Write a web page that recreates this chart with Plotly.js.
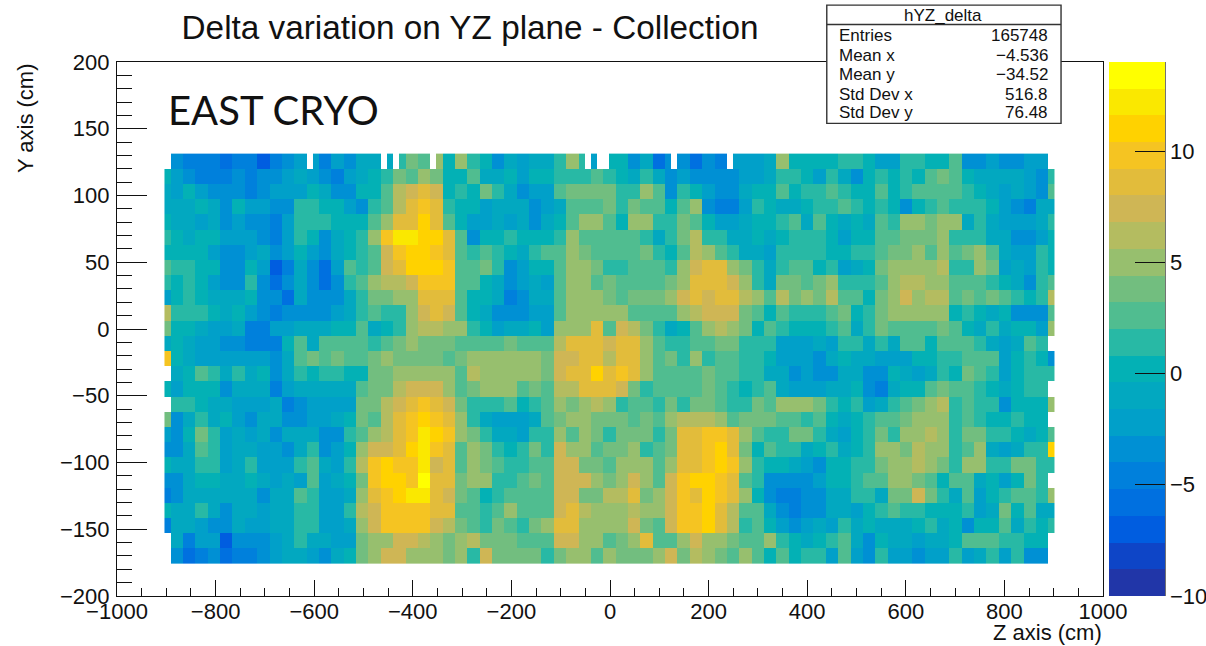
<!DOCTYPE html>
<html><head><meta charset="utf-8">
<script src="https://cdn.plot.ly/plotly-3.0.1.min.js"></script>
<style>html,body{margin:0;padding:0;background:#fff}#c{width:1206px;height:646px}</style>
</head><body><div id="c"></div>
<script>
const binStart=-903.7, binWidth=12.54, rowStart=-175.9, rowHeight=11.38;
// rows run top to bottom; each holds 71 double-width cells
const row01=[-3.5,-4.5,-4.5,-5,-6,-4.5,-5,-7,-4.5,-3.5,-2,-2,-4.5,-2,-3.5,-1,-1,-1,1.5,4,2.5,5, 0,5,1.5,0,-3,-1,-2,-1,-1,1.5,5,1.5,-2,0,0,-3,-1,-6,-3.5,-3.5,-6,-3.5,-4.5,-2,-2,-2,-1, 5,0,0,0,0,1.5,1.5,0,-2,-2,1.5,1.5,0,0,2.5,-3.5,-3.5,-2,-3.5,-3.5,-2,-2];
const row02=[-2.5,-3.5,-4.5,-4.5,-5,-3,-5,-3.5,-3.5,-2,-1,-2,-3,-4.5,-2,-1,0,1.5,4,2.5,5,4, 0,0.5,2,-0.5,-1.5,0,-2,0,0.5,1.5,1.5,1.5,2.5,1,0,-1.5,1.5,-1,-3,-2.5,-4,-3.5,-4,-3.5,-2,-2,-1, 1.5,1,0.5,-2,1.5,-1,-4,0,1.5,0,1.5,0.5,2,3.5,2,0,-1,-1,-0.5,-1,-2,-4];
const row03=[-2,0,-2,-3,-3.5,-3.5,-5,-3,-2,-2.5,-2,0,-1,-3.5,-3.5,0.5,0,3,6,7,9,7, 0,1.5,0,4,1.5,-0.5,-3,-2,-2,2,4,4,4,4,1.5,1.5,5,3,-3,1,0.5,-2,-3,-3,-1,0.5,0, 2.5,0.5,1.5,1.5,2.5,1.5,0,0,2.5,0,1.5,2.5,2.5,2.5,2.5,1.5,0.5,-0.5,-2,-1,-2,-4];
const row04=[-1,-1,0,-1,-3,0,-2,-2,-4,-3,1.5,1.5,0.5,0,-2,-3.5,1.5,3,6.5,9,10,8.5, 1,0,0,-2,-0.5,-1,-0.5,-3,-2,-0.5,2.5,3,2.5,3.5,1.5,4,2.5,2.5,0,3,4.5,-4,-4.5,-4.5,-2,1.5,0, -1,-1,0,1.5,1.5,2,1.5,0.5,1.5,0,-3,0.5,1.5,2.5,1.5,1.5,1.5,0,-2,-4,-4.5,-1.5];
const row05=[-1.5,-1,-2.5,-1,-3,-2,-3.5,-3,-4.5,-2,1,1,1,0,0.5,0.5,3,5.5,9,8.5,11,9, 2,0,-2,-2,-1.5,-2.5,-1,-3,-1.5,0.5,2.5,5.5,4.5,3,0.5,5,5,1.5,1.5,4,3,0,-2,-2.5,-0.5,0,0, 1.5,3,-0.5,2.5,0,-1,0,-1.5,3,1.5,4.5,4.5,4,5,5,-1,1.5,-1,-2,-2,-2,-1.5];
const row06=[0,-1.5,0,0,-2.5,-2,-2,-3,-4.5,-2,1,0,-3,-0.5,0,1,5,9.5,12,12,11.5,10.5, 9,2,-3,0,0,1.5,0,0,0,1.5,4.5,2.5,2.5,2.5,2.5,2.5,1.5,-0.5,1.5,4,6,1,1.5,-1,-1,0,-1, 0.5,1.5,1.5,1.5,0,-2,0,0,3,2.5,4,4,4,5,1.5,1.5,1,-1,-1,-3.5,-3.5,-2];
const row07=[0,0,0,-2,-4,-4,-2,-1.5,-4,-2,0,-2.5,-4,-1,0,1.5,2,7,10,11,11,10, 9,2.5,1.5,2.5,1,0,-1.5,1.5,2.5,2.5,5,4,2.5,2.5,2.5,2.5,4,1.5,0.5,3,6,5,2.5,1.5,-0.5,-1,-2, 1.5,1.5,1.5,1.5,0,0,1.5,1.5,2.5,4,4,5,3,5,2.5,4,5.5,2,-1,-2,-2,1.5];
const row08=[1.5,1.5,0.5,0,-3.5,-3.5,0,-2,-6.5,-5,-0.5,-3,-5.5,-2,2,1,2,7.5,9,11,11,10.5, 10,2.5,3,4,1.5,-3,-2,0,0,2,5,5,4,1.5,1.5,2.5,2.5,2.5,1.5,4.5,7.5,8.5,8,4.5,4,1.5,-1, 1.5,2.5,2.5,0,1.5,-2,-1,0.5,4,4.5,5,5,5,6,1.5,1.5,5,4,-2,-1,-2,1.5];
const row09=[0.5,1.5,0,-2.5,-3.5,-3.5,1.5,-3,-6,-3,-1,-3,-5.5,-3,1.5,2,4.5,6,6.5,7.5,10,10, 10,2.5,2.5,0,-1,-3,-2.5,-1.5,-2,2.5,5,5,2,4,2.5,2.5,2.5,3,4,5.5,8.5,8,8.5,7.5,5,1,-1, 4,4,2.5,4,4.5,1.5,1,1.5,2.5,5,6,6,5,5,2.5,2.5,2.5,1.5,0,-1.5,-4,1.5];
const row10=[0.5,1.5,0.5,-1,-1,-1,0,-3,-3,-5.5,-1,-3,-4,-3,-1,1.5,4,4,4.5,5.5,9,8.5, 8.5,2.5,0,0,-1.5,-4.5,-3,-1,-1.5,3,5,4.5,4.5,4,3,4,4,4,4.5,7.5,8,7.5,8.5,8.5,6,5,2.5, 6,4,5.5,4,6,3,2,0.5,4,5,7.5,5.5,6,6,2.5,4,3,4,2.5,1.5,0,1];
const row11=[1.5,1.5,1,0.5,-1,0,-2,-3.5,-5,-4,-3.5,-3,-3.5,-2,-1,1,2.5,1.5,1.5,5,7,8.5, 7,2.5,0,-1,-3,-3,-4,-2,-2.5,2.5,5,5,4.5,5,5,2.5,2.5,2,2.5,4.5,6,7.5,7.5,7.5,4,2.5,0.5, 2.5,1.5,1.5,1.5,2.5,4,0,1.5,4,5,5,5,5.5,5,0,1.5,0.5,-0.5,0,-3,-3,-3];
const row12=[0,0,-1,-2,-2,-1,-5,-4.5,-2,-2,-1,-1,-1,0,0,2.5,-1,0,1.5,5,6,6, 5,4.5,1,0,-2,-1,-1,0,-2,4.5,5,5,8,3,7.5,6,4,1.5,-1,0,2,5,6,5,4,0,2.5, 1.5,0,0,0,1.5,2.5,-0.5,1,4,3,2.5,2.5,3,4,2.5,0.5,-0.5,1.5,-1,0,0,-2];
const row13=[0.5,-1,-2.5,-2,-3,-3,-4.5,-5,-4.5,0.5,2,-1,2.5,2.5,2.5,2.5,1.5,2.5,4,5,4,4, 4,2.5,3,2.5,2.5,4,2.5,2.5,2.5,6.5,8.5,8.5,8.5,7.5,8.5,8.5,5,2.5,1.5,1.5,2.5,3,3.5,4,1.5,1.5,1, -2,-2,-2,-1,-2,1,1.5,-1,1,-1,2,2.5,0,2.5,2.5,2,1.5,-1,-2,-1,2,1];
const row14=[0,-1,-2,-2,-2,-2,-2.5,-2.5,-4,-1,2.5,4,3,4,2.5,2,4,4.5,4,4,4,4, 2.5,4,5,5,5,5,5.5,5,4,7.5,7.5,8.5,8.5,6,9,8.5,5,2.5,4,1,4.5,1,2,2,1.5,1.5,0, -2,-2,-2.5,-4,-0.5,0,-1,-1,-2,-2,-2,0,0,1.5,1.5,2.5,2.5,3,-2,0,1.5,0];
const row15=[-1,0,2,1,-1,1,-1,0,-3,-1.5,1.5,0,1.5,1.5,0,0.5,4,4,5,5,5.5,5, 5,2.5,6,5,5,5,5.5,4.5,4,7.5,8,8.5,10.5,8.5,10,8,5,2.5,2.5,2.5,3,4,2.5,2,1,1.5,-1, -1,-3,-2.5,-3.5,-3.5,-1,-1,-3,-3,0,-1,-2,-1,1.5,0,4,2,1.5,-2,0,1.5,1.5];
const row16=[-2,0,0.5,0.5,-3,-1,-1,-1,-4.5,-2,-1,-1,-1,-1,-1,2.5,4,4,6,7.5,7.5,7.5, 5.5,2.5,4,4.5,5,5,2.5,4,2.5,6,6,8,8.5,8,7.5,4,1.5,2,2.5,2.5,2.5,4,2,1.5,0,1.5,2.5, -0.5,-2,-2,-2,-1,-1,0,-3,-5,-1.5,0,0.5,2,4,2.5,2.5,1.5,0.5,-1,0,1.5,1.5];
const row17=[1,1,0,-1,-1,-2,-2,-2,-1,-5,-3.5,-2.5,-2.5,-2.5,-2,4,4,6,7.5,8.5,10,8.5, 7,4,1,1,1,2,0.5,1,2.5,5,4,5,6,5,1,2,2.5,1.5,4,1.5,4,4,2.5,1,1,4,2.5, 4.5,4.5,4.5,4,1.5,0,1.5,-2,-1,1.5,2.5,4,5,6.5,1,2.5,1.5,1.5,-4,0,0,0];
const row18=[-3,-1,1.5,-1,0,-2,-3,-1,-1,-3.5,-3.5,-2,-2,-1,0,4,2,6,8.5,10,11,10, 9,4.5,1,-1,-2.5,-2,-2,-1,2,4,5,5,4,4,4,2,4,2.5,5,6,6,6.5,5,2.5,4,4,4, 2.5,2.5,1.5,2.5,0,-1,0,1,2.5,2.5,4,5,5.5,5,1,2,1.5,0,0,1,0,0];
const row19=[-3,0,4,1,-2.5,-1,-2,-1,-3,-1,-1.5,-1,-3,-3,1,2.5,5,6,8,10,12,11, 9.5,5,4,1,-1,-1,-2.5,1,1,5,2,5,4,1,4,4,4,1.5,4,8.5,9,10,10,8,5,2.5,1.5, 1.5,4,4,1,-1,-2,0,1,4,1.5,4.5,5,6,5,1,4,4,1,1.5,0,-1.5,0];
const row20=[-3.5,-1,2,1,-2.5,-1,-1,-2,-2,-3,-1,1,-3.5,-2,0.5,5,7.5,7.5,8.5,11,12,10, 8.5,2.5,5,4,1,0,1,4,1.5,7.5,5,5,2,4,4,5,1.5,2.5,4,8.5,9,10,11,8,4,0,2, 1,1.5,-1,0,1,-1,0,1,5,5,4,6,5.5,5,1,2.5,5,-1,-2,-1,1,1];
const row21=[-1,-1,1,1.5,-2,-1,1,-2,-2,-2,1,2,-1,-2,1,6,10,11,10,10,12,7.5, 8.5,2.5,5.5,4,2,1,1.5,2.5,2.5,7.5,7.5,4,4,2,5,5,5,2.5,5,8,8.5,10,11,10,5,1.5,0, 0,-1,-2,-3,0.5,0,1,1,4,5,5,6,5,4,1,5,5,1,1.5,4,4,1.5];
const row22=[-3.5,-1,0.5,0.5,-1,-1,0,-1,-2,-1,-2,2,-2,-1,0,4,10,11,11,10,13,8.5, 8.5,4,5,5.5,1,1,3,4,2,7.5,7.5,7.5,5,4,5,7.5,5,2.5,7.5,10,11,11,10,8,2.5,1,-3, -3.5,-3.5,-3,-2,0,0,1,2.5,2.5,5,5,4,2.5,0,2.5,2,-1,0,-2,0,4,1];
const row23=[-4,-1,-1,-1,-1,-1,-1,-3,-1,-1,2.5,1,-2,-2,-1,5,8,10,11,12,12,8.5, 7.5,4,2.5,0.5,1,2.5,2.5,2.5,2.5,7.5,7.5,4,4,6,6,8,4,5,7.5,10,8.5,11,10,8,5,0,-3, -5,-5,-3,-3.5,-1,-1,1,1,-1,4,4,7,4,1,-1,2,-2,0,1,2,2,1];
const row24=[-1,-1,1,-1,-3,-1,-1,-2,-1,-1,1.5,1.5,-2,-2.5,1,6,7.5,10,10,10,10,8.5, 9,2.5,2.5,1,2,5,2,2.5,2.5,7.5,8.5,6,5,5,5,6,4.5,5,7.5,10,10,11,8.5,6,2.5,2.5,-1, -3.5,-5,-3.5,-3,-1,-1,-2,0,1,2,1,1.5,0.5,0,0,1,-2,-1,4,0,2,-1];
const row25=[-1,-1,-2,-3,-3.5,-1,-2,-2,-1,-1,1.5,1.5,-2,-2,-1,5,7.5,10,10,10,10,7.5, 6,4,2.5,1.5,4,2.5,1.5,4,5,8.5,8.5,5,5,5,5,7.5,4,2.5,7.5,10,10,11,8,6,1.5,2.5,0.5, -2.5,-4,-2,-1,-2,1.5,-1,0,-1,-1,-1,0,1,-1,0,-3,0,0,2,-1,1,0];
const row26=[-1,-4.5,-2,-2,-7,-3,-3.5,-3.5,-2,-1,1.5,-1,-1,-2,-2,4,5,5,7.5,7.5,6,5, 4,5,6,4,4,4,2,2.5,2.5,7.5,7.5,4.5,5,3,4,5,8,3,2.5,4.5,7.5,5,5,4,2.5,2,5, 1.5,0,-1,0,1.5,2.5,-1,-3,0,-1.5,-1.5,-2,-1,-1,0,3,2.5,2.5,1.5,1.5,0,0];
const row27=[-3,-6,-5,-3,-6,-4.5,-5,-3,-2,-1.5,-1,-2,-3,-1,0,4,5,7,7,5,5,5, 4,5,1,7,4,4,4,4,1,4,5,5,2,5,4,4,4,5,7,4,6,5,4,2,5,2,0, 2.5,0,1.5,1,-2,2.5,-2,-3.5,1.5,-2,-2,-3,-2,-2,1.5,-2,-1,1,-2,1.5,-3,-3];
const edgeLeft=[null,0,-1,-1,0,1.5,0.5,2.5,1.5,-2,6,4,-1,10,null,0,null,4,-2.5,-3.5,0,-3.5,-4.5,0,-4.5,null,null];
const edgeRight=[null,1.5,2.5,-1,1.5,0,0,0,2.5,6,2.5,5,null,-4,1.5,null,5,null,2.5,11,1.5,null,5,-1,1.5,null,null];
const topRowGaps=[23,35,37,43,68,70,71,82,91];
const palette=['#2136A8','#0E45C7','#005DE0','#0070E0','#0080DC','#0090D4','#01A0C9','#02A8C0','#03B1B5','#28B9A5','#50BD90','#72BE7F','#97BF6E','#B4BC60','#CFB655','#E2BC3B','#F5C422','#FFD200','#FAE800','#FFFF00'];
const colorTicks=[-10,-5,0,5,10];
const statNames=['Entries','Mean x','Mean y','Std Dev x','Std Dev y'];
const statValues=['165748','−4.536','−34.52','516.8','76.48'];

const rowsTop=[row01,row02,row03,row04,row05,row06,row07,row08,row09,row10,row11,row12,row13,row14,row15,row16,row17,row18,row19,row20,row21,row22,row23,row24,row25,row26,row27];
const bad=rowsTop.map((r,i)=>r.length===71?null:(i+1)+':'+r.length).filter(Boolean);
if(bad.length) throw new Error('bad rows '+bad.join(' '));
const zTop=rowsTop.map((r,i)=>{const o=[edgeLeft[i]];r.forEach(v=>o.push(v,v));o.push(edgeRight[i]);return o;});
topRowGaps.forEach(i=>{zTop[0][i]=null;});
const z=zTop.slice().reverse();
const xEdges=Array.from({length:145},(_,i)=>binStart+binWidth*i);
const yEdges=Array.from({length:28},(_,i)=>rowStart+rowHeight*i);
const cs=[];palette.forEach((c,i)=>{cs.push([i/20,c]);cs.push([(i+1)/20,c]);});

const L=116.5,R=1103.5,T=61.5,B=596.5;
const px=v=>(v-L)/(R-L), py=v=>1-(v-T)/(B-T);
const font='"Liberation Sans",Arial,sans-serif';
const ink='#111';
const rowY=[35,55,74,94.5,112.5];
const ann=[
 {text:'EAST CRYO',x:px(167),y:py(110),xanchor:'left',yanchor:'middle',font:{family:'Lato,"Open Sans",sans-serif',size:40,color:'#111'}},
 {text:'Z axis (cm)',x:px(1104),y:py(633),xanchor:'right',yanchor:'middle',font:{size:22,color:ink,family:font}},
 {text:'Y axis (cm)',x:px(25),y:py(62),xanchor:'center',yanchor:'top',textangle:-90,font:{size:22,color:ink,family:font}},
 {text:'hYZ_delta',x:px(943.5),y:py(14.5),xanchor:'center',yanchor:'middle',font:{size:17,color:ink,family:font}}
];
statNames.forEach((n,i)=>{
 ann.push({text:n,x:px(838),y:py(rowY[i]),xanchor:'left',yanchor:'middle',font:{size:17,color:ink,family:font}});
 ann.push({text:statValues[i],x:px(1049.5),y:py(rowY[i]),xanchor:'right',yanchor:'middle',font:{size:17,color:ink,family:font}});
});
ann.forEach(a=>{a.xref='paper';a.yref='paper';a.showarrow=false;a.borderpad=0;});
const shapes=[
 {type:'rect',xref:'paper',yref:'paper',x0:px(827),x1:px(1061.5),y0:py(123),y1:py(4.5),fillcolor:'#fff',line:{color:'#333',width:1.4},layer:'above'},
 {type:'line',xref:'paper',yref:'paper',x0:px(827),x1:px(1061.5),y0:py(24),y1:py(24),line:{color:'#333',width:1.4},layer:'above'},
 {type:'line',xref:'paper',yref:'paper',x0:px(1165.5),x1:px(1165.5),y0:py(61.5),y1:py(596.5),line:{color:'#111',width:1.3},layer:'above'}
];
const axis={showgrid:false,zeroline:false,ticks:'inside',tickcolor:'#111',tickwidth:1.2,linecolor:'#111',linewidth:1.3,mirror:true,tickfont:{family:font,size:22,color:ink},autorange:false};
const layout={
 width:1206,height:646,paper_bgcolor:'#fff',plot_bgcolor:'#fff',showlegend:false,
 margin:{l:L,r:1206-R,t:T,b:646-B,pad:0,autoexpand:false},
 title:{text:'Delta variation on YZ plane - Collection',x:470/1206,xref:'container',xanchor:'center',y:1-27/646,yanchor:'middle',font:{family:font,size:33.3,color:ink}},
 xaxis:Object.assign({},axis,{range:[-1000,1000],tick0:-1000,dtick:200,ticklen:16,ticklabelstandoff:-5,minor:{tick0:-1000,dtick:50,ticks:'inside',ticklen:8,tickcolor:'#111',tickwidth:1.1,showgrid:false}}),
 yaxis:Object.assign({},axis,{range:[-200,200],tick0:-200,dtick:50,ticklen:30,ticklabelstandoff:2,minor:{tick0:-200,dtick:10,ticks:'inside',ticklen:15,tickcolor:'#111',tickwidth:1.1,showgrid:false}}),
 annotations:ann,shapes:shapes
};
const trace={type:'heatmap',x:xEdges,y:yEdges,z:z,zmin:-10,zmax:14,colorscale:cs,zsmooth:false,hoverongaps:false,
 colorbar:{x:px(1110),xanchor:'left',xref:'paper',y:0.5,yanchor:'middle',len:1,lenmode:'fraction',thickness:55.5,thicknessmode:'pixels',xpad:0,ypad:0,outlinewidth:0,borderwidth:0,
  ticks:'inside',ticklen:30,tickwidth:1.2,tickcolor:'#111',tickmode:'array',tickvals:colorTicks,tickfont:{family:font,size:22,color:ink}}};
Plotly.newPlot('c',[trace],layout,{displayModeBar:false});
</script></body></html>
